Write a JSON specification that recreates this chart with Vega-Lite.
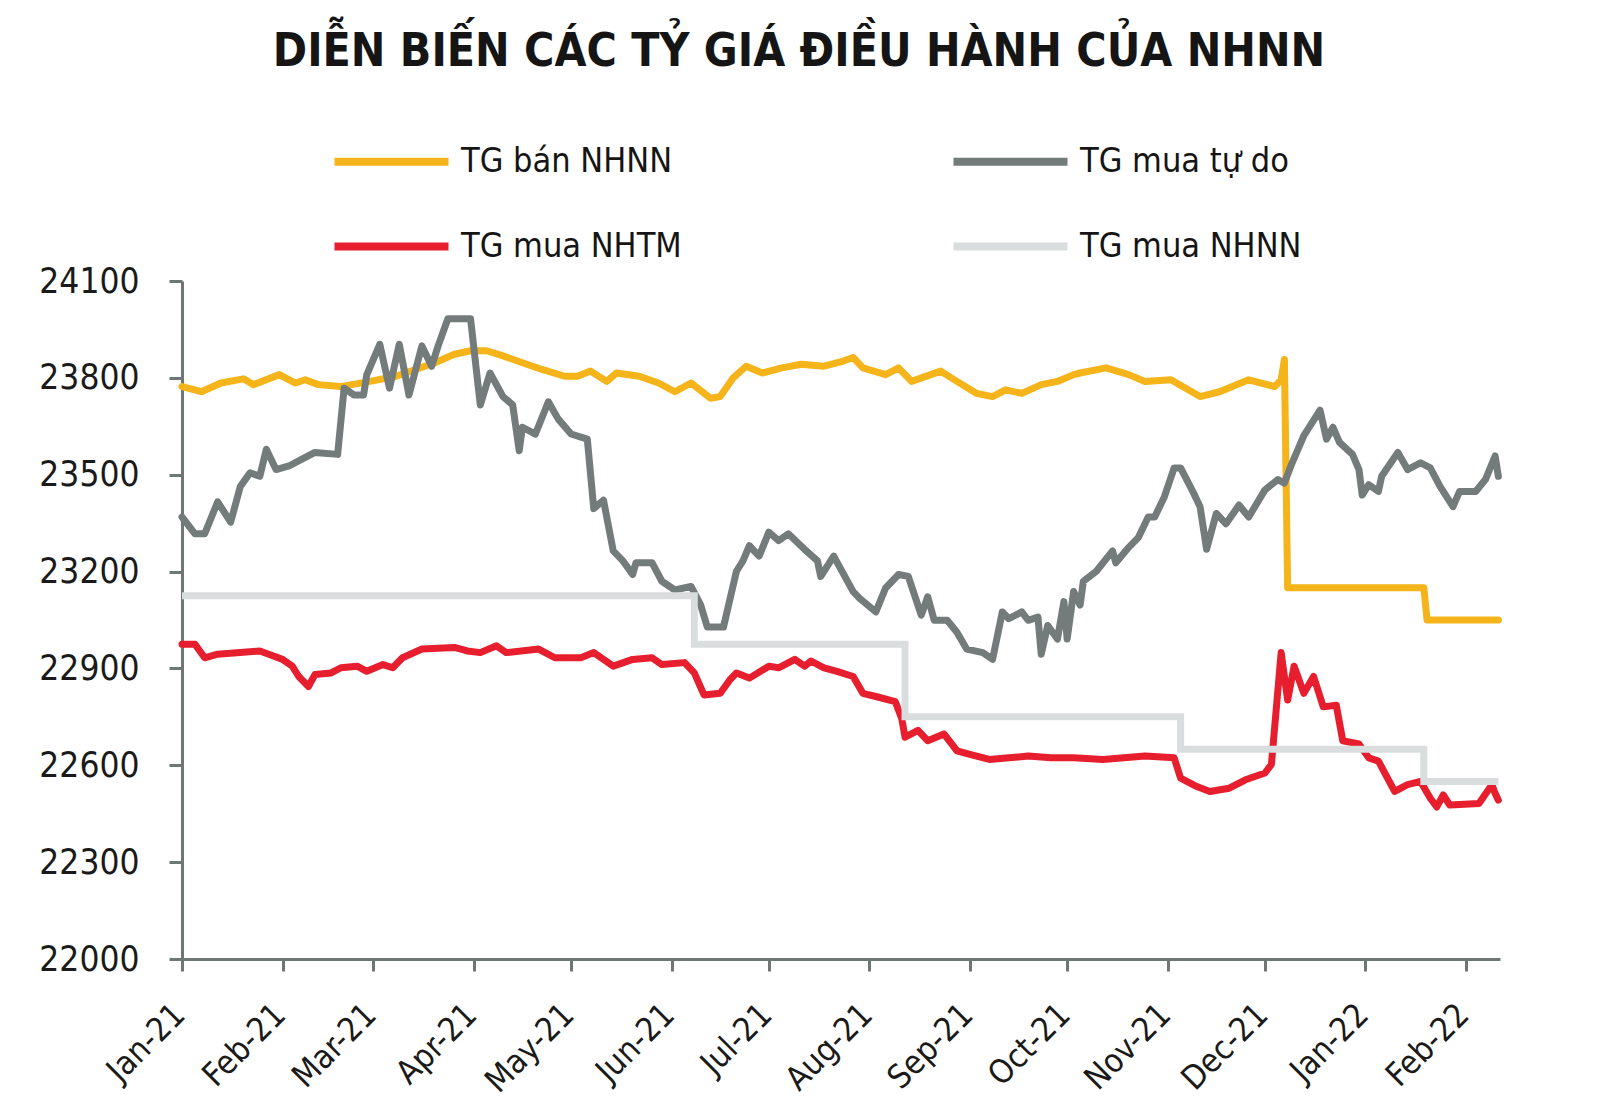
{
  "$schema": "https://vega.github.io/schema/vega-lite/v6.json",
  "width": 1318,
  "height": 678,
  "autosize": {"type": "none"},
  "padding": {"left": 182, "top": 281, "right": 100, "bottom": 161},
  "background": "white",
  "config": {
    "view": {"stroke": null},
    "font": "Liberation Sans Narrow, DejaVu Sans Condensed, Liberation Sans, sans-serif"
  },
  "title": {
    "text": "DIỄN BIẾN CÁC TỶ GIÁ ĐIỀU HÀNH CỦA NHNN",
    "font": "Liberation Sans Narrow, DejaVu Sans Condensed, sans-serif",
    "fontSize": 46,
    "fontWeight": "bold",
    "color": "#151515",
    "anchor": "middle",
    "frame": "group",
    "dx": -42,
    "offset": 24
  },
  "datasets": {
    "ban": [
      {"date": "2021-01-01", "value": 23773, "series": "TG bán NHNN"},
      {"date": "2021-01-07", "value": 23757, "series": "TG bán NHNN"},
      {"date": "2021-01-13", "value": 23784, "series": "TG bán NHNN"},
      {"date": "2021-01-20", "value": 23797, "series": "TG bán NHNN"},
      {"date": "2021-01-23", "value": 23779, "series": "TG bán NHNN"},
      {"date": "2021-01-31", "value": 23810, "series": "TG bán NHNN"},
      {"date": "2021-02-05", "value": 23784, "series": "TG bán NHNN"},
      {"date": "2021-02-08", "value": 23794, "series": "TG bán NHNN"},
      {"date": "2021-02-12", "value": 23779, "series": "TG bán NHNN"},
      {"date": "2021-02-19", "value": 23773, "series": "TG bán NHNN"},
      {"date": "2021-02-28", "value": 23789, "series": "TG bán NHNN"},
      {"date": "2021-03-08", "value": 23805, "series": "TG bán NHNN"},
      {"date": "2021-03-20", "value": 23847, "series": "TG bán NHNN"},
      {"date": "2021-03-26", "value": 23873, "series": "TG bán NHNN"},
      {"date": "2021-03-31", "value": 23884, "series": "TG bán NHNN"},
      {"date": "2021-04-05", "value": 23884, "series": "TG bán NHNN"},
      {"date": "2021-04-10", "value": 23868, "series": "TG bán NHNN"},
      {"date": "2021-04-16", "value": 23847, "series": "TG bán NHNN"},
      {"date": "2021-04-22", "value": 23826, "series": "TG bán NHNN"},
      {"date": "2021-04-29", "value": 23805, "series": "TG bán NHNN"},
      {"date": "2021-05-03", "value": 23805, "series": "TG bán NHNN"},
      {"date": "2021-05-07", "value": 23821, "series": "TG bán NHNN"},
      {"date": "2021-05-12", "value": 23789, "series": "TG bán NHNN"},
      {"date": "2021-05-15", "value": 23815, "series": "TG bán NHNN"},
      {"date": "2021-05-22", "value": 23805, "series": "TG bán NHNN"},
      {"date": "2021-05-28", "value": 23784, "series": "TG bán NHNN"},
      {"date": "2021-06-02", "value": 23757, "series": "TG bán NHNN"},
      {"date": "2021-06-07", "value": 23784, "series": "TG bán NHNN"},
      {"date": "2021-06-13", "value": 23737, "series": "TG bán NHNN"},
      {"date": "2021-06-16", "value": 23742, "series": "TG bán NHNN"},
      {"date": "2021-06-20", "value": 23800, "series": "TG bán NHNN"},
      {"date": "2021-06-24", "value": 23836, "series": "TG bán NHNN"},
      {"date": "2021-06-29", "value": 23815, "series": "TG bán NHNN"},
      {"date": "2021-07-05", "value": 23831, "series": "TG bán NHNN"},
      {"date": "2021-07-11", "value": 23842, "series": "TG bán NHNN"},
      {"date": "2021-07-18", "value": 23836, "series": "TG bán NHNN"},
      {"date": "2021-07-24", "value": 23852, "series": "TG bán NHNN"},
      {"date": "2021-07-27", "value": 23863, "series": "TG bán NHNN"},
      {"date": "2021-07-30", "value": 23831, "series": "TG bán NHNN"},
      {"date": "2021-08-06", "value": 23810, "series": "TG bán NHNN"},
      {"date": "2021-08-10", "value": 23831, "series": "TG bán NHNN"},
      {"date": "2021-08-14", "value": 23789, "series": "TG bán NHNN"},
      {"date": "2021-08-23", "value": 23821, "series": "TG bán NHNN"},
      {"date": "2021-08-28", "value": 23789, "series": "TG bán NHNN"},
      {"date": "2021-09-03", "value": 23752, "series": "TG bán NHNN"},
      {"date": "2021-09-08", "value": 23742, "series": "TG bán NHNN"},
      {"date": "2021-09-12", "value": 23763, "series": "TG bán NHNN"},
      {"date": "2021-09-17", "value": 23752, "series": "TG bán NHNN"},
      {"date": "2021-09-23", "value": 23779, "series": "TG bán NHNN"},
      {"date": "2021-09-28", "value": 23789, "series": "TG bán NHNN"},
      {"date": "2021-10-03", "value": 23810, "series": "TG bán NHNN"},
      {"date": "2021-10-05", "value": 23815, "series": "TG bán NHNN"},
      {"date": "2021-10-13", "value": 23831, "series": "TG bán NHNN"},
      {"date": "2021-10-20", "value": 23810, "series": "TG bán NHNN"},
      {"date": "2021-10-25", "value": 23789, "series": "TG bán NHNN"},
      {"date": "2021-11-02", "value": 23794, "series": "TG bán NHNN"},
      {"date": "2021-11-11", "value": 23742, "series": "TG bán NHNN"},
      {"date": "2021-11-17", "value": 23757, "series": "TG bán NHNN"},
      {"date": "2021-11-26", "value": 23794, "series": "TG bán NHNN"},
      {"date": "2021-12-04", "value": 23773, "series": "TG bán NHNN"},
      {"date": "2021-12-06", "value": 23794, "series": "TG bán NHNN"},
      {"date": "2021-12-07", "value": 23857, "series": "TG bán NHNN"},
      {"date": "2021-12-08", "value": 23150, "series": "TG bán NHNN"},
      {"date": "2022-01-19", "value": 23150, "series": "TG bán NHNN"},
      {"date": "2022-01-20", "value": 23050, "series": "TG bán NHNN"},
      {"date": "2022-02-11", "value": 23050, "series": "TG bán NHNN"}
    ],
    "tudo": [
      {"date": "2021-01-01", "value": 23369, "series": "TG mua tự do"},
      {"date": "2021-01-05", "value": 23317, "series": "TG mua tự do"},
      {"date": "2021-01-08", "value": 23317, "series": "TG mua tự do"},
      {"date": "2021-01-12", "value": 23416, "series": "TG mua tự do"},
      {"date": "2021-01-16", "value": 23353, "series": "TG mua tự do"},
      {"date": "2021-01-19", "value": 23464, "series": "TG mua tự do"},
      {"date": "2021-01-22", "value": 23506, "series": "TG mua tự do"},
      {"date": "2021-01-25", "value": 23495, "series": "TG mua tự do"},
      {"date": "2021-01-27", "value": 23579, "series": "TG mua tự do"},
      {"date": "2021-01-30", "value": 23516, "series": "TG mua tự do"},
      {"date": "2021-02-03", "value": 23527, "series": "TG mua tự do"},
      {"date": "2021-02-07", "value": 23548, "series": "TG mua tự do"},
      {"date": "2021-02-11", "value": 23569, "series": "TG mua tự do"},
      {"date": "2021-02-18", "value": 23563, "series": "TG mua tự do"},
      {"date": "2021-02-20", "value": 23768, "series": "TG mua tự do"},
      {"date": "2021-02-23", "value": 23747, "series": "TG mua tự do"},
      {"date": "2021-02-26", "value": 23747, "series": "TG mua tự do"},
      {"date": "2021-02-27", "value": 23810, "series": "TG mua tự do"},
      {"date": "2021-03-03", "value": 23904, "series": "TG mua tự do"},
      {"date": "2021-03-06", "value": 23768, "series": "TG mua tự do"},
      {"date": "2021-03-09", "value": 23904, "series": "TG mua tự do"},
      {"date": "2021-03-12", "value": 23747, "series": "TG mua tự do"},
      {"date": "2021-03-16", "value": 23899, "series": "TG mua tự do"},
      {"date": "2021-03-19", "value": 23836, "series": "TG mua tự do"},
      {"date": "2021-03-21", "value": 23899, "series": "TG mua tự do"},
      {"date": "2021-03-24", "value": 23983, "series": "TG mua tự do"},
      {"date": "2021-03-31", "value": 23983, "series": "TG mua tự do"},
      {"date": "2021-04-03", "value": 23716, "series": "TG mua tự do"},
      {"date": "2021-04-06", "value": 23815, "series": "TG mua tự do"},
      {"date": "2021-04-10", "value": 23742, "series": "TG mua tự do"},
      {"date": "2021-04-13", "value": 23716, "series": "TG mua tự do"},
      {"date": "2021-04-15", "value": 23574, "series": "TG mua tự do"},
      {"date": "2021-04-16", "value": 23647, "series": "TG mua tự do"},
      {"date": "2021-04-20", "value": 23626, "series": "TG mua tự do"},
      {"date": "2021-04-24", "value": 23726, "series": "TG mua tự do"},
      {"date": "2021-04-27", "value": 23673, "series": "TG mua tự do"},
      {"date": "2021-05-01", "value": 23626, "series": "TG mua tự do"},
      {"date": "2021-05-06", "value": 23610, "series": "TG mua tự do"},
      {"date": "2021-05-08", "value": 23395, "series": "TG mua tự do"},
      {"date": "2021-05-11", "value": 23421, "series": "TG mua tự do"},
      {"date": "2021-05-14", "value": 23264, "series": "TG mua tự do"},
      {"date": "2021-05-17", "value": 23233, "series": "TG mua tự do"},
      {"date": "2021-05-20", "value": 23191, "series": "TG mua tự do"},
      {"date": "2021-05-21", "value": 23227, "series": "TG mua tự do"},
      {"date": "2021-05-26", "value": 23227, "series": "TG mua tự do"},
      {"date": "2021-05-29", "value": 23170, "series": "TG mua tự do"},
      {"date": "2021-06-02", "value": 23143, "series": "TG mua tự do"},
      {"date": "2021-06-07", "value": 23154, "series": "TG mua tự do"},
      {"date": "2021-06-10", "value": 23096, "series": "TG mua tự do"},
      {"date": "2021-06-12", "value": 23028, "series": "TG mua tự do"},
      {"date": "2021-06-17", "value": 23028, "series": "TG mua tự do"},
      {"date": "2021-06-21", "value": 23201, "series": "TG mua tự do"},
      {"date": "2021-06-23", "value": 23233, "series": "TG mua tự do"},
      {"date": "2021-06-25", "value": 23280, "series": "TG mua tự do"},
      {"date": "2021-06-28", "value": 23248, "series": "TG mua tự do"},
      {"date": "2021-07-01", "value": 23322, "series": "TG mua tự do"},
      {"date": "2021-07-04", "value": 23296, "series": "TG mua tự do"},
      {"date": "2021-07-07", "value": 23317, "series": "TG mua tự do"},
      {"date": "2021-07-12", "value": 23269, "series": "TG mua tự do"},
      {"date": "2021-07-16", "value": 23233, "series": "TG mua tự do"},
      {"date": "2021-07-17", "value": 23185, "series": "TG mua tự do"},
      {"date": "2021-07-21", "value": 23248, "series": "TG mua tự do"},
      {"date": "2021-07-27", "value": 23138, "series": "TG mua tự do"},
      {"date": "2021-07-29", "value": 23117, "series": "TG mua tự do"},
      {"date": "2021-08-03", "value": 23075, "series": "TG mua tự do"},
      {"date": "2021-08-06", "value": 23149, "series": "TG mua tự do"},
      {"date": "2021-08-10", "value": 23191, "series": "TG mua tự do"},
      {"date": "2021-08-13", "value": 23185, "series": "TG mua tự do"},
      {"date": "2021-08-17", "value": 23065, "series": "TG mua tự do"},
      {"date": "2021-08-19", "value": 23122, "series": "TG mua tự do"},
      {"date": "2021-08-21", "value": 23049, "series": "TG mua tự do"},
      {"date": "2021-08-25", "value": 23049, "series": "TG mua tự do"},
      {"date": "2021-08-28", "value": 23012, "series": "TG mua tự do"},
      {"date": "2021-08-31", "value": 22960, "series": "TG mua tự do"},
      {"date": "2021-09-05", "value": 22949, "series": "TG mua tự do"},
      {"date": "2021-09-08", "value": 22928, "series": "TG mua tự do"},
      {"date": "2021-09-11", "value": 23075, "series": "TG mua tự do"},
      {"date": "2021-09-13", "value": 23054, "series": "TG mua tự do"},
      {"date": "2021-09-17", "value": 23075, "series": "TG mua tự do"},
      {"date": "2021-09-19", "value": 23049, "series": "TG mua tự do"},
      {"date": "2021-09-22", "value": 23059, "series": "TG mua tự do"},
      {"date": "2021-09-23", "value": 22944, "series": "TG mua tự do"},
      {"date": "2021-09-25", "value": 23033, "series": "TG mua tự do"},
      {"date": "2021-09-28", "value": 22991, "series": "TG mua tự do"},
      {"date": "2021-09-30", "value": 23107, "series": "TG mua tự do"},
      {"date": "2021-10-01", "value": 22991, "series": "TG mua tự do"},
      {"date": "2021-10-03", "value": 23138, "series": "TG mua tự do"},
      {"date": "2021-10-05", "value": 23096, "series": "TG mua tự do"},
      {"date": "2021-10-06", "value": 23170, "series": "TG mua tự do"},
      {"date": "2021-10-10", "value": 23201, "series": "TG mua tự do"},
      {"date": "2021-10-15", "value": 23264, "series": "TG mua tự do"},
      {"date": "2021-10-16", "value": 23227, "series": "TG mua tự do"},
      {"date": "2021-10-20", "value": 23275, "series": "TG mua tự do"},
      {"date": "2021-10-23", "value": 23306, "series": "TG mua tự do"},
      {"date": "2021-10-26", "value": 23369, "series": "TG mua tự do"},
      {"date": "2021-10-28", "value": 23369, "series": "TG mua tự do"},
      {"date": "2021-10-31", "value": 23432, "series": "TG mua tự do"},
      {"date": "2021-11-03", "value": 23521, "series": "TG mua tự do"},
      {"date": "2021-11-05", "value": 23521, "series": "TG mua tự do"},
      {"date": "2021-11-09", "value": 23443, "series": "TG mua tự do"},
      {"date": "2021-11-11", "value": 23401, "series": "TG mua tự do"},
      {"date": "2021-11-13", "value": 23269, "series": "TG mua tự do"},
      {"date": "2021-11-16", "value": 23380, "series": "TG mua tự do"},
      {"date": "2021-11-19", "value": 23348, "series": "TG mua tự do"},
      {"date": "2021-11-23", "value": 23406, "series": "TG mua tự do"},
      {"date": "2021-11-26", "value": 23369, "series": "TG mua tự do"},
      {"date": "2021-12-01", "value": 23453, "series": "TG mua tự do"},
      {"date": "2021-12-05", "value": 23485, "series": "TG mua tự do"},
      {"date": "2021-12-07", "value": 23474, "series": "TG mua tự do"},
      {"date": "2021-12-09", "value": 23527, "series": "TG mua tự do"},
      {"date": "2021-12-13", "value": 23621, "series": "TG mua tự do"},
      {"date": "2021-12-18", "value": 23700, "series": "TG mua tự do"},
      {"date": "2021-12-20", "value": 23610, "series": "TG mua tự do"},
      {"date": "2021-12-22", "value": 23647, "series": "TG mua tự do"},
      {"date": "2021-12-24", "value": 23600, "series": "TG mua tự do"},
      {"date": "2021-12-28", "value": 23563, "series": "TG mua tự do"},
      {"date": "2021-12-30", "value": 23516, "series": "TG mua tự do"},
      {"date": "2021-12-31", "value": 23437, "series": "TG mua tự do"},
      {"date": "2022-01-02", "value": 23469, "series": "TG mua tự do"},
      {"date": "2022-01-05", "value": 23448, "series": "TG mua tự do"},
      {"date": "2022-01-06", "value": 23495, "series": "TG mua tự do"},
      {"date": "2022-01-11", "value": 23569, "series": "TG mua tự do"},
      {"date": "2022-01-14", "value": 23516, "series": "TG mua tự do"},
      {"date": "2022-01-18", "value": 23537, "series": "TG mua tự do"},
      {"date": "2022-01-21", "value": 23521, "series": "TG mua tự do"},
      {"date": "2022-01-24", "value": 23464, "series": "TG mua tự do"},
      {"date": "2022-01-28", "value": 23401, "series": "TG mua tự do"},
      {"date": "2022-01-30", "value": 23448, "series": "TG mua tự do"},
      {"date": "2022-02-04", "value": 23448, "series": "TG mua tự do"},
      {"date": "2022-02-07", "value": 23485, "series": "TG mua tự do"},
      {"date": "2022-02-10", "value": 23558, "series": "TG mua tự do"},
      {"date": "2022-02-11", "value": 23495, "series": "TG mua tự do"}
    ],
    "nhtm": [
      {"date": "2021-01-01", "value": 22975, "series": "TG mua NHTM"},
      {"date": "2021-01-05", "value": 22975, "series": "TG mua NHTM"},
      {"date": "2021-01-08", "value": 22933, "series": "TG mua NHTM"},
      {"date": "2021-01-12", "value": 22944, "series": "TG mua NHTM"},
      {"date": "2021-01-25", "value": 22954, "series": "TG mua NHTM"},
      {"date": "2021-01-29", "value": 22939, "series": "TG mua NHTM"},
      {"date": "2021-02-01", "value": 22928, "series": "TG mua NHTM"},
      {"date": "2021-02-04", "value": 22907, "series": "TG mua NHTM"},
      {"date": "2021-02-06", "value": 22875, "series": "TG mua NHTM"},
      {"date": "2021-02-09", "value": 22844, "series": "TG mua NHTM"},
      {"date": "2021-02-11", "value": 22881, "series": "TG mua NHTM"},
      {"date": "2021-02-16", "value": 22886, "series": "TG mua NHTM"},
      {"date": "2021-02-19", "value": 22902, "series": "TG mua NHTM"},
      {"date": "2021-02-24", "value": 22907, "series": "TG mua NHTM"},
      {"date": "2021-02-27", "value": 22891, "series": "TG mua NHTM"},
      {"date": "2021-03-04", "value": 22912, "series": "TG mua NHTM"},
      {"date": "2021-03-07", "value": 22902, "series": "TG mua NHTM"},
      {"date": "2021-03-10", "value": 22933, "series": "TG mua NHTM"},
      {"date": "2021-03-16", "value": 22960, "series": "TG mua NHTM"},
      {"date": "2021-03-26", "value": 22965, "series": "TG mua NHTM"},
      {"date": "2021-03-30", "value": 22954, "series": "TG mua NHTM"},
      {"date": "2021-04-03", "value": 22949, "series": "TG mua NHTM"},
      {"date": "2021-04-08", "value": 22970, "series": "TG mua NHTM"},
      {"date": "2021-04-11", "value": 22949, "series": "TG mua NHTM"},
      {"date": "2021-04-21", "value": 22960, "series": "TG mua NHTM"},
      {"date": "2021-04-26", "value": 22933, "series": "TG mua NHTM"},
      {"date": "2021-05-04", "value": 22933, "series": "TG mua NHTM"},
      {"date": "2021-05-08", "value": 22949, "series": "TG mua NHTM"},
      {"date": "2021-05-14", "value": 22907, "series": "TG mua NHTM"},
      {"date": "2021-05-20", "value": 22928, "series": "TG mua NHTM"},
      {"date": "2021-05-26", "value": 22933, "series": "TG mua NHTM"},
      {"date": "2021-05-29", "value": 22912, "series": "TG mua NHTM"},
      {"date": "2021-06-05", "value": 22918, "series": "TG mua NHTM"},
      {"date": "2021-06-08", "value": 22886, "series": "TG mua NHTM"},
      {"date": "2021-06-11", "value": 22818, "series": "TG mua NHTM"},
      {"date": "2021-06-16", "value": 22823, "series": "TG mua NHTM"},
      {"date": "2021-06-19", "value": 22865, "series": "TG mua NHTM"},
      {"date": "2021-06-21", "value": 22886, "series": "TG mua NHTM"},
      {"date": "2021-06-25", "value": 22870, "series": "TG mua NHTM"},
      {"date": "2021-07-01", "value": 22907, "series": "TG mua NHTM"},
      {"date": "2021-07-04", "value": 22902, "series": "TG mua NHTM"},
      {"date": "2021-07-09", "value": 22928, "series": "TG mua NHTM"},
      {"date": "2021-07-12", "value": 22907, "series": "TG mua NHTM"},
      {"date": "2021-07-14", "value": 22923, "series": "TG mua NHTM"},
      {"date": "2021-07-18", "value": 22902, "series": "TG mua NHTM"},
      {"date": "2021-07-22", "value": 22891, "series": "TG mua NHTM"},
      {"date": "2021-07-27", "value": 22875, "series": "TG mua NHTM"},
      {"date": "2021-07-30", "value": 22823, "series": "TG mua NHTM"},
      {"date": "2021-08-03", "value": 22813, "series": "TG mua NHTM"},
      {"date": "2021-08-09", "value": 22797, "series": "TG mua NHTM"},
      {"date": "2021-08-11", "value": 22744, "series": "TG mua NHTM"},
      {"date": "2021-08-12", "value": 22687, "series": "TG mua NHTM"},
      {"date": "2021-08-16", "value": 22708, "series": "TG mua NHTM"},
      {"date": "2021-08-19", "value": 22676, "series": "TG mua NHTM"},
      {"date": "2021-08-24", "value": 22697, "series": "TG mua NHTM"},
      {"date": "2021-08-28", "value": 22645, "series": "TG mua NHTM"},
      {"date": "2021-09-01", "value": 22634, "series": "TG mua NHTM"},
      {"date": "2021-09-07", "value": 22618, "series": "TG mua NHTM"},
      {"date": "2021-09-13", "value": 22623, "series": "TG mua NHTM"},
      {"date": "2021-09-19", "value": 22629, "series": "TG mua NHTM"},
      {"date": "2021-09-26", "value": 22623, "series": "TG mua NHTM"},
      {"date": "2021-10-03", "value": 22623, "series": "TG mua NHTM"},
      {"date": "2021-10-12", "value": 22618, "series": "TG mua NHTM"},
      {"date": "2021-10-25", "value": 22629, "series": "TG mua NHTM"},
      {"date": "2021-11-03", "value": 22623, "series": "TG mua NHTM"},
      {"date": "2021-11-05", "value": 22560, "series": "TG mua NHTM"},
      {"date": "2021-11-10", "value": 22534, "series": "TG mua NHTM"},
      {"date": "2021-11-14", "value": 22519, "series": "TG mua NHTM"},
      {"date": "2021-11-20", "value": 22529, "series": "TG mua NHTM"},
      {"date": "2021-11-25", "value": 22555, "series": "TG mua NHTM"},
      {"date": "2021-12-01", "value": 22576, "series": "TG mua NHTM"},
      {"date": "2021-12-03", "value": 22603, "series": "TG mua NHTM"},
      {"date": "2021-12-04", "value": 22718, "series": "TG mua NHTM"},
      {"date": "2021-12-06", "value": 22949, "series": "TG mua NHTM"},
      {"date": "2021-12-08", "value": 22802, "series": "TG mua NHTM"},
      {"date": "2021-12-10", "value": 22907, "series": "TG mua NHTM"},
      {"date": "2021-12-13", "value": 22823, "series": "TG mua NHTM"},
      {"date": "2021-12-16", "value": 22875, "series": "TG mua NHTM"},
      {"date": "2021-12-19", "value": 22781, "series": "TG mua NHTM"},
      {"date": "2021-12-23", "value": 22786, "series": "TG mua NHTM"},
      {"date": "2021-12-25", "value": 22676, "series": "TG mua NHTM"},
      {"date": "2021-12-30", "value": 22666, "series": "TG mua NHTM"},
      {"date": "2022-01-02", "value": 22623, "series": "TG mua NHTM"},
      {"date": "2022-01-05", "value": 22613, "series": "TG mua NHTM"},
      {"date": "2022-01-10", "value": 22519, "series": "TG mua NHTM"},
      {"date": "2022-01-14", "value": 22540, "series": "TG mua NHTM"},
      {"date": "2022-01-18", "value": 22550, "series": "TG mua NHTM"},
      {"date": "2022-01-21", "value": 22498, "series": "TG mua NHTM"},
      {"date": "2022-01-23", "value": 22471, "series": "TG mua NHTM"},
      {"date": "2022-01-25", "value": 22508, "series": "TG mua NHTM"},
      {"date": "2022-01-27", "value": 22477, "series": "TG mua NHTM"},
      {"date": "2022-02-05", "value": 22482, "series": "TG mua NHTM"},
      {"date": "2022-02-09", "value": 22540, "series": "TG mua NHTM"},
      {"date": "2022-02-10", "value": 22513, "series": "TG mua NHTM"},
      {"date": "2022-02-11", "value": 22492, "series": "TG mua NHTM"}
    ],
    "nhnn": [
      {"date": "2021-01-01", "value": 23125, "series": "TG mua NHNN"},
      {"date": "2021-06-08", "value": 22975, "series": "TG mua NHNN"},
      {"date": "2021-08-12", "value": 22750, "series": "TG mua NHNN"},
      {"date": "2021-11-05", "value": 22650, "series": "TG mua NHNN"},
      {"date": "2022-01-19", "value": 22550, "series": "TG mua NHNN"},
      {"date": "2022-02-11", "value": 22550, "series": "TG mua NHNN"}
    ]
  },
  "encoding": {
    "x": {
      "field": "date",
      "type": "temporal",
      "scale": {"domain": [{"year": 2021, "month": 1, "date": 1}, {"year": 2022, "month": 2, "date": 11, "hours": 12}]},
      "axis": {
        "title": null,
        "format": "%b-%y",
        "tickCount": {"interval": "month", "step": 1},
        "labelAngle": -45,
        "labelFontSize": 33,
        "labelColor": "#1a1a1a",
        "labelPadding": 27,
        "labelOffset": -14,
        "labelOverlap": false,
        "labelFlush": false,
        "tickSize": 12,
        "tickWidth": 3,
        "tickColor": "#6e7676",
        "domainColor": "#6e7676",
        "domainWidth": 3,
        "grid": false
      }
    },
    "y": {
      "field": "value",
      "type": "quantitative",
      "scale": {"domain": [22000, 24100], "zero": false, "nice": false},
      "axis": {
        "title": null,
        "values": [22000, 22300, 22600, 22900, 23200, 23500, 23800, 24100],
        "format": "d",
        "labelFontSize": 35,
        "labelColor": "#1a1a1a",
        "labelPadding": 30,
        "tickSize": 13,
        "tickWidth": 3,
        "tickColor": "#6e7676",
        "domainColor": "#6e7676",
        "domainWidth": 3,
        "grid": false
      }
    },
    "color": {
      "field": "series",
      "type": "nominal",
      "scale": {
        "domain": ["TG bán NHNN", "TG mua NHTM", "TG mua tự do", "TG mua NHNN"],
        "range": ["#f4b41a", "#e61e2d", "#737b7b", "#dadddd"]
      },
      "legend": {
        "title": null,
        "orient": "none",
        "legendX": 148,
        "legendY": -181,
        "columns": 2,
        "symbolType": "stroke",
        "symbolSize": 13000,
        "symbolStrokeWidth": 8,
        "labelFontSize": 34,
        "labelColor": "#151515",
        "labelOffset": 8,
        "columnPadding": 255,
        "rowPadding": 6,
        "labelLimit": 400
      }
    }
  },
  "layer": [
    {"data": {"name": "ban"}, "mark": {"type": "line", "strokeWidth": 7, "strokeCap": "round", "strokeJoin": "round"}},
    {"data": {"name": "tudo"}, "mark": {"type": "line", "strokeWidth": 7, "strokeCap": "round", "strokeJoin": "round"}},
    {"data": {"name": "nhtm"}, "mark": {"type": "line", "strokeWidth": 7, "strokeCap": "round", "strokeJoin": "round"}},
    {"data": {"name": "nhnn"}, "mark": {"type": "line", "strokeWidth": 7, "interpolate": "step-after"}}
  ]
}
